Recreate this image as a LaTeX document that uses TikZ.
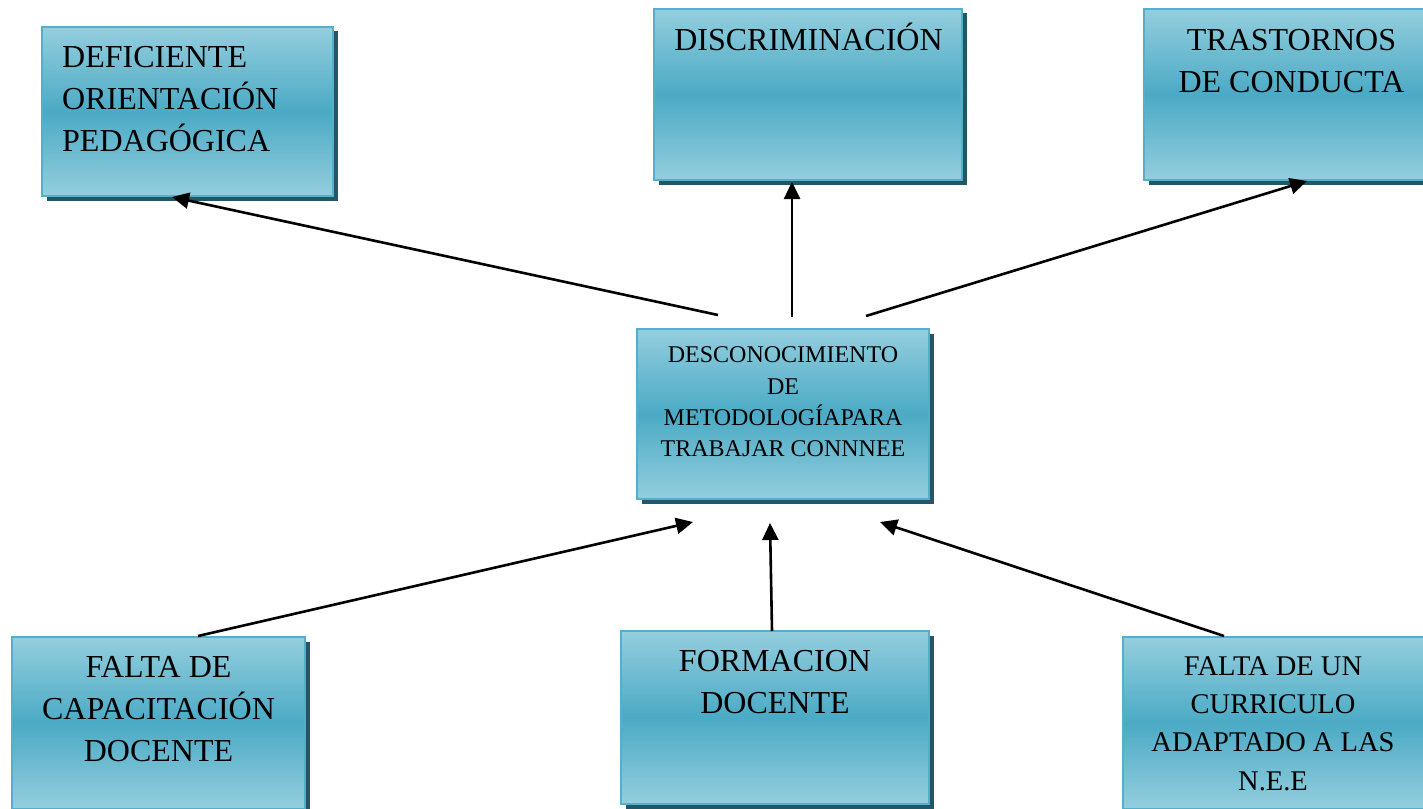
\documentclass[tikz,border=0pt]{standalone}
\usepackage{fontspec}
\setmainfont{Liberation Serif}
\usetikzlibrary{arrows.meta,shadows}
\definecolor{lb}{RGB}{148,206,222}
\definecolor{mb}{RGB}{75,170,197}
\definecolor{bordc}{RGB}{84,176,202}
\definecolor{shadowc}{RGB}{36,87,101}
\newcommand\tstrut{\rule{0pt}{1.1em}}
\tikzset{
  box/.style={rectangle, draw=bordc, line width=2pt, inner sep=0pt,
    top color=lb, bottom color=lb, middle color=mb,
    general shadow={fill=shadowc, shadow xshift=4.5pt, shadow yshift=-4.5pt}},
  big/.style={font=\fontsize{32}{42}\selectfont, inner sep=0pt, align=center, anchor=north},
  arr/.style={line width=2.6pt, -{Triangle[length=17pt,width=16pt]}}
}
\begin{document}
\begin{tikzpicture}[x=1pt,y=-1pt]
\useasboundingbox (0,0) rectangle (1423,808);
\clip (0,0) rectangle (1423,808);
% boxes
\node[box, minimum width=291pt, minimum height=169pt] (d) at (187.5,111.5) {};
\node[box, minimum width=308pt, minimum height=171pt] (s) at (808,94.5) {};
\node[box, minimum width=295pt, minimum height=171pt] (t) at (1291.5,94.5) {};
\node[box, minimum width=292pt, minimum height=170pt] (c) at (783,414) {};
\node[box, minimum width=293pt, minimum height=172pt] (f) at (158.5,723) {};
\node[box, minimum width=308pt, minimum height=173pt] (m) at (775,717.5) {};
\node[box, minimum width=304pt, minimum height=172pt] (u) at (1275,723) {};
% texts
\node[big, anchor=north west, align=left] (dt) at (62,31.8) {\tstrut DEFICIENTE\\ORIENTACIÓN\\PEDAGÓGICA};
\node[big] (st) at (808.5,14.8) {\tstrut DISCRIMINACIÓN};
\node[big] (tt) at (1291.5,14.8) {\tstrut TRASTORNOS\\DE CONDUCTA};
\node[big, font=\fontsize{24}{31.3}\selectfont] (ct) at (783,336.3) {\tstrut DESCONOCIMIENTO\\DE\\METODOLOGÍAPARA\\TRABAJAR CONNNEE};
\node[big] (ft) at (158.5,641.8) {\tstrut FALTA DE\\CAPACITACIÓN\\DOCENTE};
\node[big] (mt) at (775,635.8) {\tstrut FORMACION\\DOCENTE};
\node[big, font=\fontsize{28.5}{38.3}\selectfont] (ut) at (1273,643.6) {\tstrut FALTA DE UN\\CURRICULO\\ADAPTADO A LAS\\N.E.E};
% arrows
\draw[arr] ([xshift=-65pt,yshift=13pt]c.north) -- ([xshift=-15.5pt]d.south);
\draw[arr] ([xshift=9pt,yshift=11pt]c.north) -- ([xshift=-16pt,yshift=-1pt]s.south);
\draw[arr] ([xshift=83pt,yshift=12pt]c.north) -- ([xshift=15.5pt]t.south);
\draw[arr] ([xshift=39.5pt]f.north) -- ([xshift=-90pt,yshift=-22pt]c.south);
\draw[arr] ([xshift=-3pt,yshift=-1pt]m.north) -- ([xshift=-13pt,yshift=-23pt]c.south);
\draw[arr] ([xshift=-51pt]u.north) -- ([xshift=97pt,yshift=-22pt]c.south);
\end{tikzpicture}
\end{document}
